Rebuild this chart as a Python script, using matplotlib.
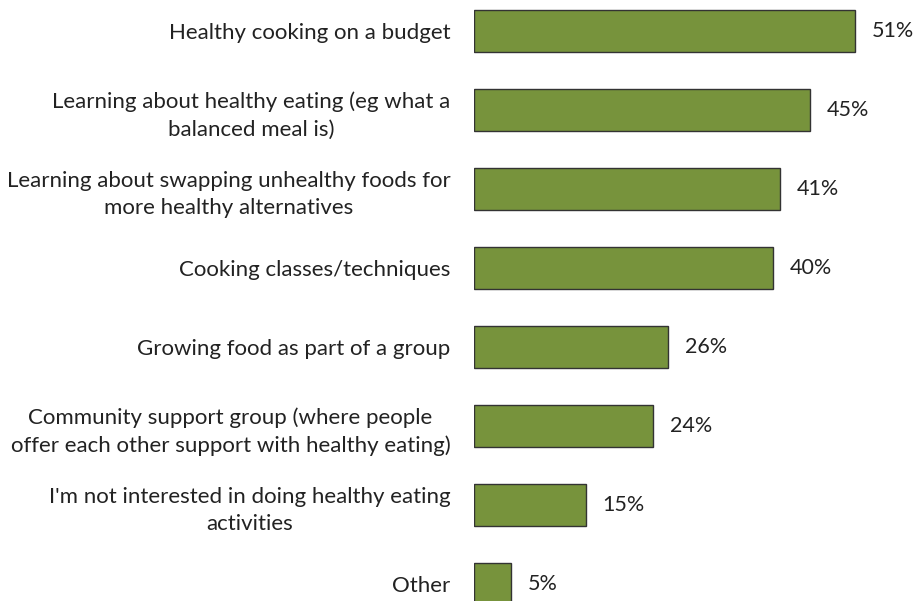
import matplotlib.pyplot as plt

categories = [
    "Healthy cooking on a budget",
    "Learning about healthy eating (eg what a\nbalanced meal is)",
    "Learning about swapping unhealthy foods for\nmore healthy alternatives",
    "Cooking classes/techniques",
    "Growing food as part of a group",
    "Community support group (where people\noffer each other support with healthy eating)",
    "I'm not interested in doing healthy eating\nactivities",
    "Other",
]
values = [51, 45, 41, 40, 26, 24, 15, 5]

bar_color = "#77933C"
text_color = "#222222"

plt.rcParams['font.family'] = ['Lato', 'DejaVu Sans']

fig = plt.figure(figsize=(9.17, 6.01), dpi=100)
ax = fig.add_axes([474 / 917, 0, 443 / 917, 1])

pos = list(range(len(values)))
ax.barh(pos, values, height=0.53, color=bar_color, edgecolor="#333333", linewidth=1)

# percentage labels just right of each bar
for y, v in zip(pos, values):
    ax.text(v + 2.2, y, f"{v}%", va="center", ha="left", fontsize=15.5, color=text_color)

ax.set_xlim(0, 59.3)
ax.set_ylim(7.215, -0.392)
ax.set_yticks(pos)
ax.set_yticklabels(categories, fontsize=16, color=text_color)
for lbl in ax.get_yticklabels():
    lbl.set_multialignment("center")
    lbl.set_linespacing(1.45)
ax.tick_params(axis="y", length=0, pad=17)
ax.set_xticks([])
for s in ax.spines.values():
    s.set_visible(False)

fig.savefig("out.png", dpi=100)
plt.close()
